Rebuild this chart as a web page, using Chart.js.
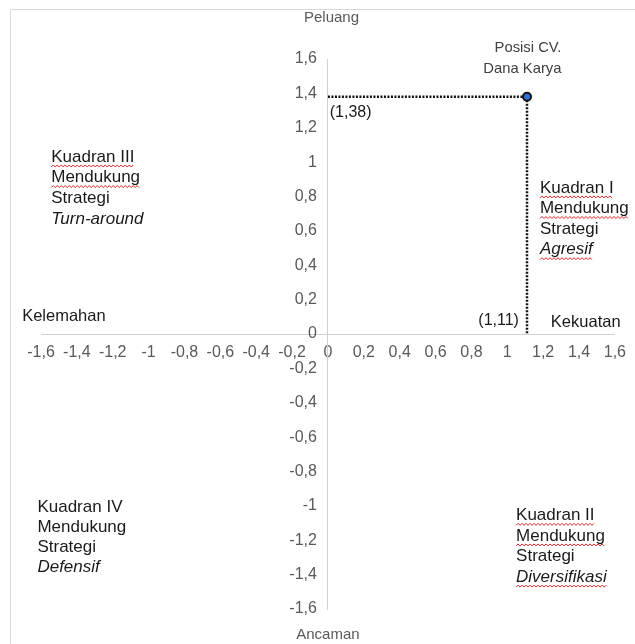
<!DOCTYPE html>
<html>
<head>
<meta charset="utf-8">
<script src="https://cdn.jsdelivr.net/npm/chart.js@4"></script>
<style>
  body { margin: 0; background: #fff; }
  #wrap { position: relative; width: 635px; height: 644px; }
</style>
</head>
<body>
<div id="wrap"><canvas id="ifas" width="635" height="644"></canvas></div>
<script>
// axis ranges / ticks
const sumbuMin = -1.6;
const sumbuMax = 1.6;
const langkah = 0.2;

// posisi perusahaan (x = kekuatan-kelemahan, y = peluang-ancaman)
const posisiX = [1.11];
const posisiY = [1.38];
const posisiNama = ['Posisi CV.', 'Dana Karya'];
const labelY = ['(1,38)'];
const labelX = ['(1,11)'];

// axis names
const namaAtas = 'Peluang';
const namaBawah = 'Ancaman';
const namaKiri = 'Kelemahan';
const namaKanan = 'Kekuatan';

// quadrant texts
const kuadranI = ['Kuadran I', 'Mendukung', 'Strategi', 'Agresif'];
const kuadranII = ['Kuadran II', 'Mendukung', 'Strategi', 'Diversifikasi'];
const kuadranIII = ['Kuadran III', 'Mendukung', 'Strategi', 'Turn-around'];
const kuadranIV = ['Kuadran IV', 'Mendukung', 'Strategi', 'Defensif'];

function koma(v) {
    var r = Math.round(v * 10) / 10;
    return String(r).replace('.', ',');
}

const FONT = "'Liberation Sans', Arial, sans-serif";

// where the notes sit, in data units
const catatan = [
    { teks: [namaAtas], x: 0.02, y: 1.84, align: 'center', warna: '#595959', size: 15 },
    { teks: [namaBawah], x: 0.0, y: -1.75, align: 'center', warna: '#595959', size: 15 },
    { teks: [namaKiri], x: -1.705, y: 0.105, align: 'left', warna: '#1a1a1a', size: 16.5 },
    { teks: [namaKanan], x: 1.243, y: 0.07, align: 'left', warna: '#1a1a1a', size: 16.5 },
    { teks: posisiNama, x: 1.302, y: 1.667, align: 'right', warna: '#404040', size: 14.8, gap: 21 },
    { teks: labelY, x: 0.01, y: 1.29, align: 'left', warna: '#1a1a1a', size: 16 },
    { teks: labelX, x: posisiX[0] - 0.045, y: 0.08, align: 'right', warna: '#1a1a1a', size: 16 },
    { teks: kuadranIII, x: -1.543, y: 1.03, align: 'left', warna: '#1a1a1a', size: 17, gap: 20.6, miring: [3], garis: [0, 1] },
    { teks: kuadranI, x: 1.182, y: 0.85, align: 'left', warna: '#1a1a1a', size: 17, gap: 20.6, miring: [3], garis: [0, 1, 3] },
    { teks: kuadranIV, x: -1.62, y: -1.01, align: 'left', warna: '#1a1a1a', size: 17, gap: 20.0, miring: [3], garis: [] },
    { teks: kuadranII, x: 1.049, y: -1.055, align: 'left', warna: '#1a1a1a', size: 17, gap: 20.6, miring: [3], garis: [0, 1, 3] }
];

function ombak(ctx, x0, x1, y) {
    ctx.save();
    ctx.strokeStyle = '#e02020';
    ctx.lineWidth = 1;
    ctx.beginPath();
    var naik = true;
    ctx.moveTo(x0, y);
    for (var x = x0 + 2; x <= x1; x += 2) {
        ctx.lineTo(x, naik ? y - 2 : y);
        naik = !naik;
    }
    ctx.stroke();
    ctx.restore();
}

const pluginTeks = {
    id: 'pluginTeks',
    beforeDraw(chart) {
        const ctx = chart.ctx;
        ctx.save();
        ctx.strokeStyle = '#d9d9d9';
        ctx.lineWidth = 1;
        ctx.strokeRect(10.5, 9.5, 700, 700);
        ctx.restore();
    },
    afterDraw(chart) {
        const ctx = chart.ctx;
        const sx = chart.scales.x, sy = chart.scales.y;
        ctx.save();
        ctx.textBaseline = 'middle';

        // y tick labels, left of the centred axis
        var axX = sx.getPixelForValue(0);
        ctx.font = '16px ' + FONT;
        ctx.fillStyle = '#595959';
        ctx.textAlign = 'right';
        sy.ticks.forEach(function (t) {
            ctx.fillText(koma(t.value), axX - 11, sy.getPixelForValue(t.value));
        });

        catatan.forEach(function (c) {
            var px = sx.getPixelForValue(c.x);
            var py = sy.getPixelForValue(c.y);
            c.teks.forEach(function (t, i) {
                var italic = c.miring && c.miring.indexOf(i) >= 0;
                ctx.font = (italic ? 'italic ' : '') + c.size + 'px ' + FONT;
                ctx.fillStyle = c.warna;
                ctx.textAlign = c.align;
                var yy = py + i * (c.gap || 20);
                ctx.fillText(t, px, yy);
                if (c.garis && c.garis.indexOf(i) >= 0) {
                    var w = ctx.measureText(t).width;
                    ombak(ctx, px, px + w, yy + 10);
                }
            });
        });
        ctx.restore();
    }
};

const dataPosisi = {
    datasets: [{
        label: 'Posisi',
        data: [{ x: posisiX[0], y: posisiY[0] }],
        pointRadius: 4,
        pointBackgroundColor: '#2f6fd6',
        pointBorderColor: '#111',
        pointBorderWidth: 2,
        order: 0
    }, {
        label: 'garis y',
        data: [{ x: 0, y: posisiY[0] }, { x: posisiX[0], y: posisiY[0] }],
        showLine: true,
        borderColor: '#111',
        borderWidth: 2.5,
        borderDash: [2, 1.5],
        pointRadius: 0,
        order: 1
    }, {
        label: 'garis x',
        data: [{ x: posisiX[0], y: posisiY[0] }, { x: posisiX[0], y: 0 }],
        showLine: true,
        borderColor: '#111',
        borderWidth: 2.5,
        borderDash: [2, 1.5],
        pointRadius: 0,
        order: 1
    }]
};

const configPosisi = {
    type: 'scatter',
    data: dataPosisi,
    options: {
        responsive: false,
        animation: false,
        devicePixelRatio: 1,
        layout: {
            padding: { left: 41, right: 18, top: 59, bottom: 35 }
        },
        plugins: {
            legend: { display: false },
            tooltip: { enabled: false }
        },
        scales: {
            x: {
                type: 'linear',
                min: sumbuMin,
                max: sumbuMax,
                position: { y: 0 },
                grid: { display: false, drawTicks: false },
                border: { display: true, color: '#d0d0d0', width: 1 },
                ticks: {
                    stepSize: langkah,
                    padding: 9,
                    color: '#595959',
                    font: { family: FONT, size: 16 },
                    maxRotation: 0,
                    autoSkip: false,
                    callback: function (v) { return koma(v); }
                }
            },
            y: {
                type: 'linear',
                min: sumbuMin,
                max: sumbuMax,
                position: { x: 0 },
                grid: { display: false, drawTicks: false },
                border: { display: true, color: '#d0d0d0', width: 1 },
                ticks: {
                    display: false,
                    stepSize: langkah,
                    autoSkip: false
                }
            }
        }
    },
    plugins: [pluginTeks]
};

const chartPosisi = new Chart(document.getElementById('ifas'), configPosisi);
</script>
</body>
</html>
